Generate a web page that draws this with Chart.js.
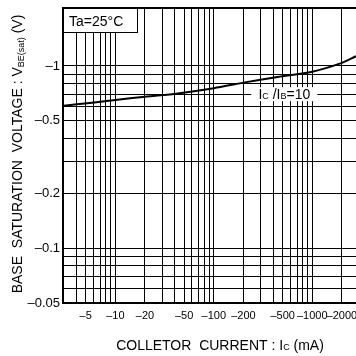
<!DOCTYPE html>
<html><head><meta charset="utf-8">
<script src="https://cdn.jsdelivr.net/npm/chart.js@4/dist/chart.umd.min.js"></script>
<style>html,body{margin:0;padding:0;background:#fff;overflow:hidden}canvas{display:block}</style>
</head><body>
<canvas id="c" width="356" height="356"></canvas>
<script>
// Data (signed values as printed on the chart)
const collectorCurrent = [-3, -5.5, -10, -20, -43, -100, -200, -445, -1000, -2000, -2780];
const vbeSat = [-0.605, -0.627, -0.650, -0.678, -0.707, -0.755, -0.81, -0.87, -0.93, -1.04, -1.13];

const xGridValues = [-4,-5,-6,-7,-8,-9,-10,-20,-30,-40,-50,-60,-70,-80,-90,-100,-200,-300,-400,-500,-600,-700,-800,-900,-1000,-2000];
const xTickValues = [-5,-10,-20,-50,-100,-200,-500,-1000,-2000];
const xTickLabels = ['–5','–10','–20','–50','–100','–200','–500','–1000','–2000'];
const yGridValues = [-0.05,-0.06,-0.07,-0.08,-0.09,-0.1,-0.2,-0.3,-0.4,-0.5,-0.6,-0.7,-0.8,-0.9,-1];
const yTickValues = [-0.05,-0.1,-0.2,-0.5,-1];
const yTickLabels = ['–0.05','–0.1','–0.2','–0.5','–1'];
const xRange = [-2.94, -2780];
const yRange = [-0.05, -2.08];

const FONT = '"Liberation Sans", Arial, sans-serif';
const near = (a, b) => Math.abs(a - b) <= Math.abs(b) * 1e-6;
function labelFor(v, vals, labels) {
  for (let i = 0; i < vals.length; i++) if (near(v, Math.abs(vals[i]))) return labels[i];
  return '';
}

function drawRich(ctx, parts, x, y, align) {
  let w = 0;
  parts.forEach(p => { ctx.font = p[1] + 'px ' + FONT; p.w = ctx.measureText(p[0]).width; w += p.w; });
  let cx = align === 'center' ? x - w / 2 : (align === 'right' ? x - w : x);
  ctx.textAlign = 'left'; ctx.textBaseline = 'alphabetic'; ctx.fillStyle = '#000';
  parts.forEach(p => { ctx.font = p[1] + 'px ' + FONT; ctx.fillText(p[0], cx, y + (p[2] || 0)); cx += p.w; });
  return w;
}

const annotations = {
  id: 'annotations',
  beforeDatasetsDraw(chart) {
    const ctx = chart.ctx, a = chart.chartArea;
    const xs = chart.scales.x, ys = chart.scales.y;
    ctx.save();
    // top border
    ctx.strokeStyle = '#000'; ctx.lineWidth = 2;
    ctx.beginPath(); ctx.moveTo(a.left - 1, a.top); ctx.lineTo(a.right, a.top); ctx.stroke();
    // Ta box
    ctx.fillStyle = '#fff';
    ctx.fillRect(a.left, a.top, 74, 24);
    ctx.lineWidth = 1;
    ctx.strokeRect(a.left + 0.5, a.top + 0.5, 74, 24);
    drawRich(ctx, [['Ta=25°C', 14]], a.left + 6, a.top + 18, 'left');
    // Ic/Ib label
    const cx = xs.getPixelForValue(520), cy = ys.getPixelForValue(0.7);
    ctx.fillStyle = '#fff';
    ctx.fillRect(cx - 33, cy - 7, 66, 14);
    drawRich(ctx, [['I', 14], ['C', 9], [' /I', 14], ['B', 9], ['=10', 14]], cx, cy + 5, 'center');
    ctx.restore();
  },
  afterDraw(chart) {
    const ctx = chart.ctx;
    ctx.save();
    drawRich(ctx, [['COLLETOR  CURRENT : I', 14], ['C', 9], [' (mA)', 14]], 220, 350, 'center');
    ctx.translate(22, 154);
    ctx.rotate(-Math.PI / 2);
    drawRich(ctx, [['BASE  SATURATION  VOLTAGE : V', 14], ['BE(sat)', 9, 2], [' (V)', 14]], 0, 0, 'center');
    ctx.restore();
  }
};

new Chart(document.getElementById('c'), {
  type: 'line',
  data: {
    datasets: [{
      data: collectorCurrent.map((c, i) => ({ x: Math.abs(c), y: Math.abs(vbeSat[i]) })),
      borderColor: '#000', borderWidth: 2, pointRadius: 0,
      tension: 0.3, fill: false
    }]
  },
  options: {
    responsive: false, devicePixelRatio: 1, animation: false,
    layout: { padding: { top: 8, right: 0, left: 0, bottom: 0 } },
    plugins: { legend: { display: false }, tooltip: { enabled: false } },
    scales: {
      x: {
        type: 'logarithmic', position: 'bottom',
        min: Math.abs(xRange[0]), max: Math.abs(xRange[1]),
        afterBuildTicks(s) { s.ticks = xGridValues.map(v => ({ value: Math.abs(v) })).concat([{ value: Math.abs(xRange[1]) }]); },
        afterFit(s) { s.height = 53; s.paddingLeft = 0; s.paddingRight = 0; },
        grid: {
          drawTicks: false, lineWidth: 1,
          color: c => (c.tick && near(c.tick.value, Math.abs(xRange[1]))) ? 'rgba(0,0,0,0)' : '#000'
        },
        border: { display: true, color: '#000', width: 2 },
        ticks: {
          autoSkip: false, maxRotation: 0, padding: 6, color: '#000',
          font: { family: FONT, size: 11 },
          callback: (v) => near(v, Math.abs(xRange[1])) ? null : labelFor(v, xTickValues, xTickLabels)
        }
      },
      y: {
        type: 'logarithmic', position: 'left',
        min: Math.abs(yRange[0]), max: Math.abs(yRange[1]),
        afterBuildTicks(s) { s.ticks = yGridValues.map(v => ({ value: Math.abs(v) })).concat([{ value: Math.abs(yRange[1]) }]); },
        afterFit(s) { s.width = 63; s.paddingTop = 0; s.paddingBottom = 0; },
        grid: {
          drawTicks: false, lineWidth: 1,
          color: c => (c.tick && near(c.tick.value, Math.abs(yRange[1]))) ? 'rgba(0,0,0,0)' : '#000'
        },
        border: { display: true, color: '#000', width: 2 },
        ticks: {
          autoSkip: false, padding: 3, color: '#000',
          font: { family: FONT, size: 13 },
          callback: (v) => near(v, Math.abs(yRange[1])) ? null : labelFor(v, yTickValues, yTickLabels)
        }
      }
    }
  },
  plugins: [annotations]
});
</script>
</body></html>
